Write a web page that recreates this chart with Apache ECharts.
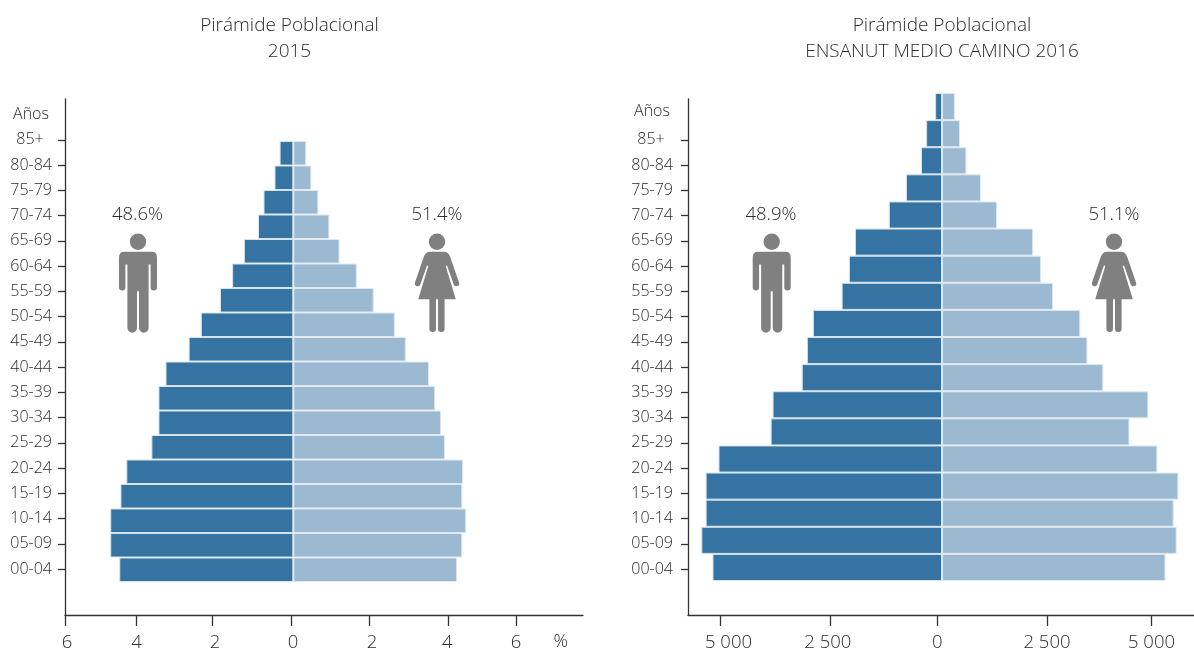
<!DOCTYPE html>
<html><head><meta charset="utf-8">
<style>html,body{margin:0;padding:0;background:#fff}#c{width:1194px;height:649px}</style>
<script src="https://cdn.jsdelivr.net/npm/echarts@6/dist/echarts.min.js"></script>
</head><body><div id="c"></div>
<script>
const ageGroups = ['00-04','05-09','10-14','15-19','20-24','25-29','30-34','35-39','40-44','45-49','50-54','55-59','60-64','65-69','70-74','75-79','80-84','85+\u00a0\u00a0'];
const men2015 = [4.44,4.67,4.67,4.41,4.26,3.62,3.44,3.44,3.26,2.67,2.36,1.87,1.56,1.26,0.9,0.76,0.48,0.35];
const women2015 = [4.18,4.31,4.41,4.31,4.33,3.87,3.77,3.62,3.46,2.87,2.59,2.05,1.62,1.18,0.92,0.64,0.46,0.33];
const men2016 = [5350,5610,5510,5510,5210,3995,3950,3270,3150,3010,2340,2170,2030,1240,840,490,370,160];
const women2016 = [5210,5470,5400,5510,5020,4370,4810,3760,3390,3225,2590,2310,2125,1285,910,570,420,300];
const tickPos2015 = [-5.824,-4.013,-2.074,-0.059,1.939,3.946,5.681];
const labelPos2015 = [-5.773,-4.0,-1.997,-0.008,2.008,3.929,5.681];
const tickPos2016 = [-5158,-2611,-110,2455,4879];
const labelPos2016 = [-4977,-2662,-110,2448,4883];
const title2015 = 'Pirámide Poblacional\n2015';
const title2016 = 'Pirámide Poblacional\nENSANUT MEDIO CAMINO 2016';

const FONT = '"Open Sans", sans-serif';
const TXT = '#2b2b2b', AX = '#333';
const grids=[], xAxes=[], yAxes=[], series=[];

function panel(p){
  const g0 = grids.length;
  const w = p.right - p.left;
  const gridBase = {left:p.left,width:w,outerBoundsMode:'none'};
  grids.push(Object.assign({},gridBase,{top:p.barTop,height:p.barH}));
  grids.push(Object.assign({},gridBase,{top:99,height:516}));
  grids.push(Object.assign({},gridBase,{top:127.2,height:25.25*18}));
  const hidden = {show:false};
  xAxes.push({type:'value',gridIndex:g0,min:p.min,max:p.max,show:false});
  yAxes.push({type:'category',gridIndex:g0,data:ageGroups,show:false});
  xAxes.push({type:'value',gridIndex:g0+1,min:p.min,max:p.max,splitLine:hidden,
    axisLine:{show:true,onZero:false,lineStyle:{color:AX,width:1.3}},
    axisTick:{show:true,length:11,customValues:p.ticks,lineStyle:{color:AX,width:1.3}},
    axisLabel:{show:true,customValues:p.labels,margin:18,color:TXT,fontFamily:FONT,fontSize:p.fs,fontWeight:300,
      showMinLabel:true,showMaxLabel:true,hideOverlap:false,formatter:p.fmt}});
  yAxes.push({type:'value',gridIndex:g0+1,min:0,max:1,splitLine:hidden,axisLabel:hidden,axisTick:hidden,
    axisLine:{show:true,onZero:false,lineStyle:{color:AX,width:1.3}}});
  xAxes.push({type:'value',gridIndex:g0+2,min:p.min,max:p.max,show:false});
  yAxes.push({type:'category',gridIndex:g0+2,data:ageGroups,splitLine:hidden,
    axisLine:{show:false,onZero:false},
    axisTick:{show:true,alignWithLabel:true,length:7,lineStyle:{color:AX,width:1.3}},
    axisLabel:{show:true,margin:p.lm,interval:0,color:TXT,fontFamily:FONT,fontSize:16,fontWeight:300}});
  const common = {type:'bar',xAxisIndex:g0,yAxisIndex:g0,barWidth:'100%',barGap:'-100%',silent:true,animation:false};
  series.push(Object.assign({},common,{name:'Hombres',data:p.men.map(v=>-v),
    itemStyle:{color:'#3574a2',borderColor:'#d6e3ed',borderWidth:1}}));
  series.push(Object.assign({},common,{name:'Mujeres',data:p.women,
    itemStyle:{color:'#9bbad1',borderColor:'#dfe9f1',borderWidth:1}}));
}
panel({left:65,right:583,barTop:141,barH:441,min:-5.824,max:7.39,men:men2015,women:women2015,
  ticks:tickPos2015,labels:labelPos2015,fs:18.5,lm:13,fmt:v=>String(Math.round(Math.abs(v)/2)*2)});
panel({left:688,right:1194,barTop:93,barH:488,min:-5921,max:5874,men:men2016,women:women2016,
  ticks:tickPos2016,labels:labelPos2016,fs:18.5,lm:15,fmt:v=>{const r=Math.round(Math.abs(v)/2500)*2500;return r===0?'0':(r===2500?'2 500':'5 000');}});

const MAN = 'M-14,10 L14,10 Q19,10 19,16 L19,46 A3.2,3.2 0 0 1 12.6,46 L12.6,23 L10.6,23 L10.6,87 A4.8,4.8 0 0 1 1,87 L1,50 L-1,50 L-1,87 A4.8,4.8 0 0 1 -10.6,87 L-10.6,23 L-12.6,23 L-12.6,46 A3.2,3.2 0 0 1 -19,46 L-19,16 Q-19,10 -14,10 Z';
const WOMAN = 'M-7,10 L7,10 Q11,10 13,15 L21.8,41 A2.8,2.8 0 0 1 16.6,43 L10,24 L8.5,24 L18.5,57.5 L7.5,57.5 L7.5,87 A3.2,3.2 0 0 1 1,87 L1,57.5 L-1,57.5 L-1,87 A3.2,3.2 0 0 1 -7.5,87 L-7.5,57.5 L-18.5,57.5 L-8.5,24 L-10,24 L-16.6,43 A2.8,2.8 0 0 1 -21.8,41 L-13,15 Q-11,10 -7,10 Z';
const figures = [
  {path:MAN,x:138,hw:19,h:81},
  {path:WOMAN,x:437,hw:22.2,h:80.2},
  {path:MAN,x:771.7,hw:19,h:81},
  {path:WOMAN,x:1114,hw:22.2,h:80.2}
];
series.push({type:'custom',coordinateSystem:'none',silent:true,data:figures.map((f,i)=>[i]),
  renderItem:(params)=>{
    const f = figures[params.dataIndex];
    return {type:'group',children:[
      {type:'circle',shape:{cx:f.x,cy:241.7,r:8.2},style:{fill:'#808080'}},
      {type:'path',shape:{pathData:f.path,x:f.x-f.hw,y:251.7,width:2*f.hw,height:f.h,layout:'cover'},style:{fill:'#808080'}}
    ]};
  }});

function label(t,x,y,size,align){
  return {type:'text',x:x,y:y,style:{text:t,fill:TXT,font:'300 '+size+'px '+FONT.replace(/"/g,"'"),textAlign:align||'center',textVerticalAlign:'middle'}};
}
const graphic=[
  label('48.6%',137.5,215,18.5),label('51.4%',437,215,18.5),label('48.9%',771,215,18.5),label('51.1%',1114,215,18.5),
  label('Años',31,114.5,16),label('Años',652,111.5,16),label('%',560.7,642,18),
];
const chart = echarts.init(document.getElementById('c'),null,{renderer:'canvas'});
const titleStyle = {color:TXT,fontFamily:FONT,fontWeight:300,fontSize:19,lineHeight:26};
chart.setOption({
  animation:false,
  title:[
    {text:title2015,left:289.5,top:13,padding:0,textAlign:'center',textStyle:titleStyle},
    {text:title2016,left:942,top:13,padding:0,textAlign:'center',textStyle:titleStyle}
  ],
  grid:grids,xAxis:xAxes,yAxis:yAxes,series:series,graphic:graphic
});
</script></body></html>
